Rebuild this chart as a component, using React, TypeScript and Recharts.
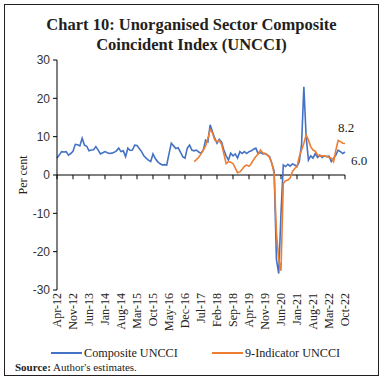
import React from "react";
import { LineChart, Line, XAxis, YAxis, ReferenceLine } from "recharts";

// monthly categories Apr-12 .. Oct-22
const monthNames = ["Jan", "Feb", "Mar", "Apr", "May", "Jun", "Jul", "Aug", "Sep", "Oct", "Nov", "Dec"];
const categories: string[] = [];
for (let k = 0; k < 127; k++) {
  const m = (3 + k) % 12;
  const yr = 12 + Math.floor((3 + k) / 12);
  categories.push(`${monthNames[m]}-${yr}`);
}

const tickLabels = [
  "Apr-12", "Nov-12", "Jun-13", "Jan-14", "Aug-14", "Mar-15", "Oct-15", "May-16", "Dec-16", "Jul-17",
  "Feb-18", "Sep-18", "Apr-19", "Nov-19", "Jun-20", "Jan-21", "Aug-21", "Mar-22", "Oct-22",
];

const yTicks = [-30, -20, -10, 0, 10, 20, 30];

// Composite UNCCI, Apr-12 .. Oct-22
const composite = [
  4.4, 5.2, 6.1, 6.0, 6.1, 5.2, 5.6, 6.2, 8.0, 7.9, 7.6, 9.6, 7.8, 7.5, 6.3, 6.5, 6.6, 7.4, 6.5, 5.5,
  5.8, 6.1, 5.8, 5.6, 5.7, 5.9, 6.3, 7.0, 6.1, 6.3, 4.8, 7.0, 6.4, 6.5, 7.8, 7.7, 6.9, 6.1, 5.0, 4.4,
  3.9, 3.5, 5.5, 4.3, 3.5, 3.0, 2.6, 2.7, 2.6, 5.5, 8.3, 7.6, 6.9, 7.1, 6.0, 4.8, 4.4, 7.0, 7.8, 6.5,
  6.3, 6.5, 6.0, 5.7, 6.5, 9.1, 8.6, 13.1, 11.3, 9.6, 8.3, 9.3, 8.6, 6.5, 5.0, 3.9, 5.7, 5.0, 5.5, 4.4,
  6.1, 5.6, 6.1, 5.6, 6.1, 6.3, 6.7, 7.0, 5.6, 5.9, 5.5, 5.6, 5.2, 4.8, 3.0, 1.0, -22.0, -25.7, -10.0, 2.6,
  2.2, 2.8, 2.3, 2.9, 2.6, 2.2, 3.5, 8.0, 23.0, 10.0, 3.9, 5.0, 4.4, 5.6, 4.6, 5.2, 4.6, 5.0, 4.8, 4.9,
  3.5, 4.4, 5.2, 6.5, 6.1, 5.6, 6.0,
];

// 9-Indicator UNCCI, Apr-17 .. Oct-22
const nineStart = "Apr-17";
const nineIndicator = [
  3.5, 4.0, 4.6, 5.5, 6.5, 7.6, 9.5, 11.9, 11.0, 9.1, 8.7, 9.0, 8.0, 5.5, 3.0, 3.5, 3.3, 3.0, 1.8, 0.6,
  0.8, 1.5, 2.3, 2.6, 2.3, 3.0, 4.0, 4.8, 5.5, 6.5, 5.8, 5.6, 5.3, 4.6, 3.0, 0.4, -15.0, -22.0, -25.0, -2.2,
  -1.5, -1.3, -0.8, 0.9, 1.7, 2.2, 4.8, 6.5, 8.3, 10.4, 9.1, 7.4, 6.5, 6.2, 5.2, 5.0, 5.0, 5.0, 4.8, 4.6,
  4.4, 3.5, 6.5, 9.0, 8.7, 8.3, 8.2,
];

const offset = categories.indexOf(nineStart);
const data = categories.map((month, i) => ({
  month,
  composite: composite[i],
  nine: i >= offset ? nineIndicator[i - offset] : null,
}));
const last = categories.length - 1;

const BLUE = "#4472C4";
const ORANGE = "#ED7D31";
const SERIF = "'Liberation Serif', 'Times New Roman', serif";
const SANS = "'Liberation Sans', Arial, sans-serif";

const XTick = (props: any) => {
  const { x, y, payload } = props;
  return (
    <text
      transform={`translate(${x},${y}) rotate(-90)`}
      textAnchor="end"
      dy="0.35em"
      fontSize={12}
      fontFamily={SERIF}
      fill="#222"
    >
      {payload.value}
    </text>
  );
};

const endLabel = (dx: number, dy: number, anchor: string) => (props: any) => {
  if (props.index !== last) return <g />;
  return (
    <text x={props.x + dx} y={props.y + dy} textAnchor={anchor} fontSize={13} fontFamily={SERIF} fill="#222">
      {props.value.toFixed(1)}
    </text>
  );
};

export default function App() {
  return (
    <div style={{ position: "absolute", left: 0, top: 0, width: 383, height: 383, background: "#fff" }}>
      <div
        style={{
          position: "absolute",
          left: 4,
          top: 4,
          width: 373,
          height: 370,
          border: "1px solid #231f20",
        }}
      />
      <div
        style={{
          position: "absolute",
          left: 0,
          top: 15,
          width: 383,
          textAlign: "center",
          fontFamily: SERIF,
          fontWeight: "bold",
          fontSize: 16.5,
          lineHeight: "20px",
          color: "#231f20",
        }}
      >
        Chart 10: Unorganised Sector Composite
        <br />
        Coincident Index (UNCCI)
      </div>
      <div style={{ position: "absolute", left: 0, top: 0 }}>
        <LineChart width={383} height={383} data={data} margin={{ top: 60, right: 38, left: 12, bottom: 48 }}>
          <XAxis
            dataKey="month"
            ticks={tickLabels}
            interval={0}
            axisLine={false}
            tickLine={false}
            tickSize={0}
            tickMargin={3}
            height={45}
            tick={<XTick />}
          />
          <YAxis
            domain={[-30, 30]}
            ticks={yTicks}
            interval={0}
            width={45}
            tickSize={4}
            tickMargin={3}
            axisLine={{ stroke: "#000" }}
            tickLine={{ stroke: "#000" }}
            tick={{ fontSize: 12, fontFamily: SANS, fill: "#333" }}
            label={({ viewBox }: any) => (
              <text
                transform={`translate(${viewBox.x + 11},${viewBox.y + viewBox.height / 2}) rotate(-90)`}
                textAnchor="middle"
                dy="0.35em"
                fontSize={12}
                fontFamily={SERIF}
                fill="#222"
              >
                Per cent
              </text>
            )}
          />
          <ReferenceLine y={0} stroke="#000" strokeWidth={1} />
          {tickLabels.map((t) => (
            <ReferenceLine
              key={t}
              segment={[
                { x: t, y: 0 },
                { x: t, y: -1.1 },
              ]}
              stroke="#000"
              strokeWidth={1}
            />
          ))}
          <Line
            type="linear"
            dataKey="composite"
            stroke={BLUE}
            strokeWidth={1.6}
            dot={false}
            isAnimationActive={false}
            label={endLabel(6, 13, "start")}
          />
          <Line
            type="linear"
            dataKey="nine"
            stroke={ORANGE}
            strokeWidth={1.6}
            dot={false}
            connectNulls={false}
            isAnimationActive={false}
            label={endLabel(1, -12, "middle")}
          />
        </LineChart>
      </div>
      <svg style={{ position: "absolute", left: 0, top: 0 }} width={383} height={383}>
        <line x1={51} x2={82} y1={353} y2={353} stroke={BLUE} strokeWidth={2} />
        <text x={84} y={357} fontSize={12.2} fontFamily={SERIF} fill="#222">
          Composite UNCCI
        </text>
        <line x1={212} x2={243} y1={353} y2={353} stroke={ORANGE} strokeWidth={2} />
        <text x={245} y={357} fontSize={12.2} fontFamily={SERIF} fill="#222">
          9-Indicator UNCCI
        </text>
        <text x={15} y={370.5} fontSize={11} fontFamily={SERIF} fill="#222">
          <tspan fontWeight="bold">Source:</tspan> Author's estimates.
        </text>
      </svg>
    </div>
  );
}
